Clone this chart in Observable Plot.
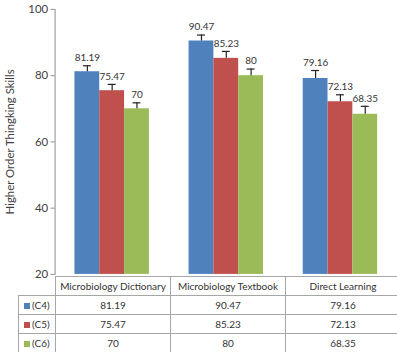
<!DOCTYPE html>
<html><head><meta charset="utf-8">
<script src="https://cdn.jsdelivr.net/npm/d3@7"></script>
<script src="https://cdn.jsdelivr.net/npm/@observablehq/plot@0.6"></script>
<style>
html,body{margin:0;padding:0;background:#fff;overflow:hidden;}
#wrap{position:relative;width:397px;height:352px;overflow:hidden;font-family:Lato,"Open Sans",sans-serif;}
#wrap svg{position:absolute;left:0;top:0;}
table{position:absolute;left:18px;top:276px;border-collapse:collapse;font-size:10px;color:#333;table-layout:fixed;width:382px;font-family:Lato,sans-serif;}
td{height:18px;border:1px solid #a6a6a6;text-align:center;padding:0;white-space:nowrap;overflow:hidden;}
td.lab{text-align:left;padding-left:5px;}
td.lab span.sw{display:inline-block;width:6px;height:6px;margin-right:2px;vertical-align:0px;}
td.corner{border-top:none;border-left:none;}
</style></head><body><div id="wrap"></div>
<script>
const categories = ["Microbiology Dictionary", "Microbiology Textbook", "Direct Learning"];
const series = ["(C4)", "(C5)", "(C6)"];
const valuesC4 = [81.19, 90.47, 79.16];
const valuesC5 = [75.47, 85.23, 72.13];
const valuesC6 = [70, 80, 68.35];
const errorsC4 = [1.8, 1.8, 2.4];
const errorsC5 = [1.9, 2.1, 2.1];
const errorsC6 = [1.8, 2.0, 2.4];
const colors = ["#4F81BD", "#C0504D", "#9BBB59"];
const yTicks = [20, 40, 60, 80, 100];
const yLabel = "Higher Order Thingking Skills";

const allValues = [valuesC4, valuesC5, valuesC6];
const allErrors = [errorsC4, errorsC5, errorsC6];
const rows = [];
categories.forEach((c, i) => series.forEach((s, j) => rows.push({category: c, series: s, value: allValues[j][i], err: allErrors[j][i]})));
const yMin = yTicks[0];

const chart = Plot.plot({
  width: 400, height: 290,
  marginTop: 9, marginBottom: 14, marginLeft: 55, marginRight: 0,
  style: {fontFamily: "Lato, sans-serif", background: "transparent"},
  fx: {domain: categories, padding: 0, axis: null, label: null},
  x: {domain: series, paddingInner: 0, paddingOuter: 0.74, axis: null, label: null},
  y: {domain: [yTicks[0], yTicks[yTicks.length - 1]], axis: null},
  color: {domain: series, range: colors},
  marks: [
    Plot.frame({anchor: "left", facetAnchor: "left", stroke: "#8c8c8c"}),
    Plot.axisY({ticks: yTicks, tickSize: 4, stroke: "#8c8c8c", fontSize: 11.5, color: "#404040", tickPadding: 3,
      label: yLabel, labelAnchor: "center", labelOffset: 50, labelArrow: "none", fontSize: 11.5}),
    Plot.barY(rows, {fx: "category", x: "series", y1: yMin, y2: "value", fill: "series"}),
    Plot.ruleX(rows, {fx: "category", x: "series", y1: "value", y2: d => d.value + d.err, stroke: "#222", strokeWidth: 1.2}),
    Plot.tickY(rows, {fx: "category", x: "series", y: d => d.value + d.err, insetLeft: 8.5, insetRight: 8.5, stroke: "#222", strokeWidth: 1.2}),
    Plot.text(rows, {fx: "category", x: "series", y: d => d.value + d.err, text: d => String(d.value), dy: -8, fontSize: 10, fill: "#333"})
  ]
});
const wrap = document.getElementById("wrap");
wrap.appendChild(chart);

// data table below the plot
const table = document.createElement("table");
const cg = document.createElement("colgroup");
[37, 115, 115, 115].forEach(w => { const c = document.createElement("col"); c.style.width = w + "px"; cg.appendChild(c); });
table.appendChild(cg);
const head = document.createElement("tr");
const corner = document.createElement("td"); corner.className = "corner"; head.appendChild(corner);
categories.forEach(c => { const td = document.createElement("td"); td.textContent = c; head.appendChild(td); });
table.appendChild(head);
series.forEach((s, j) => {
  const tr = document.createElement("tr");
  const lab = document.createElement("td"); lab.className = "lab";
  const sw = document.createElement("span"); sw.className = "sw"; sw.style.background = colors[j];
  lab.appendChild(sw); lab.appendChild(document.createTextNode(s));
  tr.appendChild(lab);
  allValues[j].forEach(v => { const td = document.createElement("td"); td.textContent = String(v); tr.appendChild(td); });
  table.appendChild(tr);
});
wrap.appendChild(table);
</script></body></html>
